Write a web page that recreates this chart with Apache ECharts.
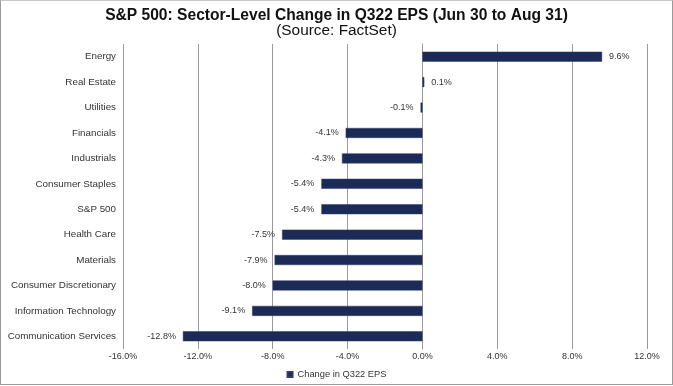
<!DOCTYPE html>
<html><head><meta charset="utf-8">
<script src="https://cdn.jsdelivr.net/npm/echarts@6/dist/echarts.min.js"></script>
<style>html,body{margin:0;padding:0;background:#fff}#c{width:671px;height:383px;border:1px solid #9a9a9a;border-top-color:#c8c8c8}</style>
</head><body><div id="c"></div>
<script>
const categories = ["Energy","Real Estate","Utilities","Financials","Industrials","Consumer Staples","S&P 500","Health Care","Materials","Consumer Discretionary","Information Technology","Communication Services"];
const values = [9.6,0.1,-0.1,-4.1,-4.3,-5.4,-5.4,-7.5,-7.9,-8.0,-9.1,-12.8];
const seriesName = "Change in Q322 EPS";
const chart = echarts.init(document.getElementById('c'));
const ff = "Liberation Sans, Arial, sans-serif";
chart.setOption({
  animation:false,
  title:{text:"S&P 500: Sector-Level Change in Q322 EPS (Jun 30 to Aug 31)",subtext:"(Source: FactSet)",left:'center',top:2,itemGap:-1,
    textStyle:{fontFamily:ff,fontSize:15.6,fontWeight:'bold',color:'#111'},subtextStyle:{fontFamily:ff,fontSize:15.4,color:'#111'}},
  legend:{top:364,left:'center',itemWidth:5,itemHeight:5,itemGap:3,icon:'rect',textStyle:{fontFamily:ff,fontSize:9.3,color:'#333'},data:[seriesName]},
  grid:{left:122,right:25,top:43,bottom:35,containLabel:false},
  xAxis:{type:'value',min:-16,max:12,interval:4,
    axisLabel:{formatter:v=>v.toFixed(1)+'%',fontFamily:ff,fontSize:9,color:'#333',margin:3},
    axisLine:{show:false},axisTick:{show:false},
    splitLine:{lineStyle:{color:'#9a9a9a',width:1}}},
  yAxis:{type:'category',data:categories,inverse:true,
    axisLine:{show:true,lineStyle:{color:'#9a9a9a'}},axisTick:{show:false},
    axisLabel:{fontFamily:ff,fontSize:9.8,color:'#333',margin:7}},
  series:[{name:seriesName,type:'bar',barWidth:10,
    data:values.map(v=>({value:v,label:{position:v<0?'left':'right'}})),
    itemStyle:{color:'#1b2a56',borderColor:'#2e3d6b',borderWidth:0.5},
    label:{show:true,formatter:p=>p.value.toFixed(1)+'%',fontFamily:ff,fontSize:9,color:'#333',distance:7}}]
});
</script></body></html>
